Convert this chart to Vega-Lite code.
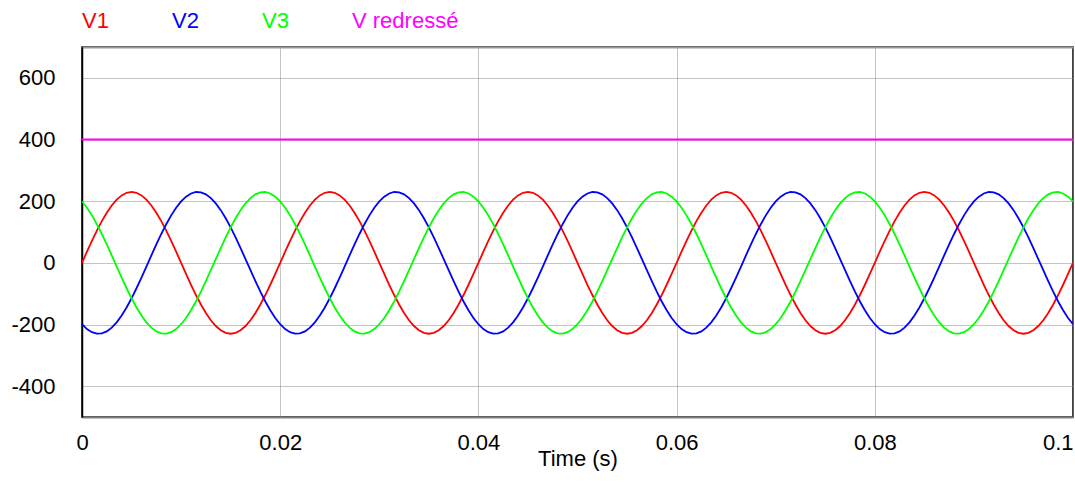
{
"$schema": "https://vega.github.io/schema/vega-lite/v6.json",
"width": 991, "height": 370,
"autosize": "none",
"padding": {"left": 82, "top": 47, "right": 2, "bottom": 67},
"config": {"font": "Liberation Sans", "view": {"stroke": "#000", "strokeWidth": 1.5}},
"resolve": {"axis": {"x": "independent"}},
"layer": [
{
"data": {"values": [
{"t":0,"V1":0,"V2":-199.2,"V3":199.2},
{"t":0.0005,"V1":36,"V2":-214.7,"V3":178.7},
{"t":0.001,"V1":71.1,"V2":-225,"V3":153.9},
{"t":0.0015,"V1":104.4,"V2":-229.7,"V3":125.3},
{"t":0.002,"V1":135.2,"V2":-228.7,"V3":93.6},
{"t":0.0025,"V1":162.6,"V2":-222.2,"V3":59.5},
{"t":0.003,"V1":186.1,"V2":-210.1,"V3":24},
{"t":0.0035,"V1":204.9,"V2":-192.9,"V3":-12},
{"t":0.004,"V1":218.7,"V2":-170.9,"V3":-47.8},
{"t":0.0045,"V1":227.2,"V2":-144.7,"V3":-82.4},
{"t":0.005,"V1":230,"V2":-115,"V3":-115},
{"t":0.0055,"V1":227.2,"V2":-82.4,"V3":-144.7},
{"t":0.006,"V1":218.7,"V2":-47.8,"V3":-170.9},
{"t":0.0065,"V1":204.9,"V2":-12,"V3":-192.9},
{"t":0.007,"V1":186.1,"V2":24,"V3":-210.1},
{"t":0.0075,"V1":162.6,"V2":59.5,"V3":-222.2},
{"t":0.008,"V1":135.2,"V2":93.6,"V3":-228.7},
{"t":0.0085,"V1":104.4,"V2":125.3,"V3":-229.7},
{"t":0.009,"V1":71.1,"V2":153.9,"V3":-225},
{"t":0.0095,"V1":36,"V2":178.7,"V3":-214.7},
{"t":0.01,"V1":0,"V2":199.2,"V3":-199.2},
{"t":0.0105,"V1":-36,"V2":214.7,"V3":-178.7},
{"t":0.011,"V1":-71.1,"V2":225,"V3":-153.9},
{"t":0.0115,"V1":-104.4,"V2":229.7,"V3":-125.3},
{"t":0.012,"V1":-135.2,"V2":228.7,"V3":-93.6},
{"t":0.0125,"V1":-162.6,"V2":222.2,"V3":-59.5},
{"t":0.013,"V1":-186.1,"V2":210.1,"V3":-24},
{"t":0.0135,"V1":-204.9,"V2":192.9,"V3":12},
{"t":0.014,"V1":-218.7,"V2":170.9,"V3":47.8},
{"t":0.0145,"V1":-227.2,"V2":144.7,"V3":82.4},
{"t":0.015,"V1":-230,"V2":115,"V3":115},
{"t":0.0155,"V1":-227.2,"V2":82.4,"V3":144.7},
{"t":0.016,"V1":-218.7,"V2":47.8,"V3":170.9},
{"t":0.0165,"V1":-204.9,"V2":12,"V3":192.9},
{"t":0.017,"V1":-186.1,"V2":-24,"V3":210.1},
{"t":0.0175,"V1":-162.6,"V2":-59.5,"V3":222.2},
{"t":0.018,"V1":-135.2,"V2":-93.6,"V3":228.7},
{"t":0.0185,"V1":-104.4,"V2":-125.3,"V3":229.7},
{"t":0.019,"V1":-71.1,"V2":-153.9,"V3":225},
{"t":0.0195,"V1":-36,"V2":-178.7,"V3":214.7},
{"t":0.02,"V1":0,"V2":-199.2,"V3":199.2},
{"t":0.0205,"V1":36,"V2":-214.7,"V3":178.7},
{"t":0.021,"V1":71.1,"V2":-225,"V3":153.9},
{"t":0.0215,"V1":104.4,"V2":-229.7,"V3":125.3},
{"t":0.022,"V1":135.2,"V2":-228.7,"V3":93.6},
{"t":0.0225,"V1":162.6,"V2":-222.2,"V3":59.5},
{"t":0.023,"V1":186.1,"V2":-210.1,"V3":24},
{"t":0.0235,"V1":204.9,"V2":-192.9,"V3":-12},
{"t":0.024,"V1":218.7,"V2":-170.9,"V3":-47.8},
{"t":0.0245,"V1":227.2,"V2":-144.7,"V3":-82.4},
{"t":0.025,"V1":230,"V2":-115,"V3":-115},
{"t":0.0255,"V1":227.2,"V2":-82.4,"V3":-144.7},
{"t":0.026,"V1":218.7,"V2":-47.8,"V3":-170.9},
{"t":0.0265,"V1":204.9,"V2":-12,"V3":-192.9},
{"t":0.027,"V1":186.1,"V2":24,"V3":-210.1},
{"t":0.0275,"V1":162.6,"V2":59.5,"V3":-222.2},
{"t":0.028,"V1":135.2,"V2":93.6,"V3":-228.7},
{"t":0.0285,"V1":104.4,"V2":125.3,"V3":-229.7},
{"t":0.029,"V1":71.1,"V2":153.9,"V3":-225},
{"t":0.0295,"V1":36,"V2":178.7,"V3":-214.7},
{"t":0.03,"V1":0,"V2":199.2,"V3":-199.2},
{"t":0.0305,"V1":-36,"V2":214.7,"V3":-178.7},
{"t":0.031,"V1":-71.1,"V2":225,"V3":-153.9},
{"t":0.0315,"V1":-104.4,"V2":229.7,"V3":-125.3},
{"t":0.032,"V1":-135.2,"V2":228.7,"V3":-93.6},
{"t":0.0325,"V1":-162.6,"V2":222.2,"V3":-59.5},
{"t":0.033,"V1":-186.1,"V2":210.1,"V3":-24},
{"t":0.0335,"V1":-204.9,"V2":192.9,"V3":12},
{"t":0.034,"V1":-218.7,"V2":170.9,"V3":47.8},
{"t":0.0345,"V1":-227.2,"V2":144.7,"V3":82.4},
{"t":0.035,"V1":-230,"V2":115,"V3":115},
{"t":0.0355,"V1":-227.2,"V2":82.4,"V3":144.7},
{"t":0.036,"V1":-218.7,"V2":47.8,"V3":170.9},
{"t":0.0365,"V1":-204.9,"V2":12,"V3":192.9},
{"t":0.037,"V1":-186.1,"V2":-24,"V3":210.1},
{"t":0.0375,"V1":-162.6,"V2":-59.5,"V3":222.2},
{"t":0.038,"V1":-135.2,"V2":-93.6,"V3":228.7},
{"t":0.0385,"V1":-104.4,"V2":-125.3,"V3":229.7},
{"t":0.039,"V1":-71.1,"V2":-153.9,"V3":225},
{"t":0.0395,"V1":-36,"V2":-178.7,"V3":214.7},
{"t":0.04,"V1":0,"V2":-199.2,"V3":199.2},
{"t":0.0405,"V1":36,"V2":-214.7,"V3":178.7},
{"t":0.041,"V1":71.1,"V2":-225,"V3":153.9},
{"t":0.0415,"V1":104.4,"V2":-229.7,"V3":125.3},
{"t":0.042,"V1":135.2,"V2":-228.7,"V3":93.6},
{"t":0.0425,"V1":162.6,"V2":-222.2,"V3":59.5},
{"t":0.043,"V1":186.1,"V2":-210.1,"V3":24},
{"t":0.0435,"V1":204.9,"V2":-192.9,"V3":-12},
{"t":0.044,"V1":218.7,"V2":-170.9,"V3":-47.8},
{"t":0.0445,"V1":227.2,"V2":-144.7,"V3":-82.4},
{"t":0.045,"V1":230,"V2":-115,"V3":-115},
{"t":0.0455,"V1":227.2,"V2":-82.4,"V3":-144.7},
{"t":0.046,"V1":218.7,"V2":-47.8,"V3":-170.9},
{"t":0.0465,"V1":204.9,"V2":-12,"V3":-192.9},
{"t":0.047,"V1":186.1,"V2":24,"V3":-210.1},
{"t":0.0475,"V1":162.6,"V2":59.5,"V3":-222.2},
{"t":0.048,"V1":135.2,"V2":93.6,"V3":-228.7},
{"t":0.0485,"V1":104.4,"V2":125.3,"V3":-229.7},
{"t":0.049,"V1":71.1,"V2":153.9,"V3":-225},
{"t":0.0495,"V1":36,"V2":178.7,"V3":-214.7},
{"t":0.05,"V1":0,"V2":199.2,"V3":-199.2},
{"t":0.0505,"V1":-36,"V2":214.7,"V3":-178.7},
{"t":0.051,"V1":-71.1,"V2":225,"V3":-153.9},
{"t":0.0515,"V1":-104.4,"V2":229.7,"V3":-125.3},
{"t":0.052,"V1":-135.2,"V2":228.7,"V3":-93.6},
{"t":0.0525,"V1":-162.6,"V2":222.2,"V3":-59.5},
{"t":0.053,"V1":-186.1,"V2":210.1,"V3":-24},
{"t":0.0535,"V1":-204.9,"V2":192.9,"V3":12},
{"t":0.054,"V1":-218.7,"V2":170.9,"V3":47.8},
{"t":0.0545,"V1":-227.2,"V2":144.7,"V3":82.4},
{"t":0.055,"V1":-230,"V2":115,"V3":115},
{"t":0.0555,"V1":-227.2,"V2":82.4,"V3":144.7},
{"t":0.056,"V1":-218.7,"V2":47.8,"V3":170.9},
{"t":0.0565,"V1":-204.9,"V2":12,"V3":192.9},
{"t":0.057,"V1":-186.1,"V2":-24,"V3":210.1},
{"t":0.0575,"V1":-162.6,"V2":-59.5,"V3":222.2},
{"t":0.058,"V1":-135.2,"V2":-93.6,"V3":228.7},
{"t":0.0585,"V1":-104.4,"V2":-125.3,"V3":229.7},
{"t":0.059,"V1":-71.1,"V2":-153.9,"V3":225},
{"t":0.0595,"V1":-36,"V2":-178.7,"V3":214.7},
{"t":0.06,"V1":0,"V2":-199.2,"V3":199.2},
{"t":0.0605,"V1":36,"V2":-214.7,"V3":178.7},
{"t":0.061,"V1":71.1,"V2":-225,"V3":153.9},
{"t":0.0615,"V1":104.4,"V2":-229.7,"V3":125.3},
{"t":0.062,"V1":135.2,"V2":-228.7,"V3":93.6},
{"t":0.0625,"V1":162.6,"V2":-222.2,"V3":59.5},
{"t":0.063,"V1":186.1,"V2":-210.1,"V3":24},
{"t":0.0635,"V1":204.9,"V2":-192.9,"V3":-12},
{"t":0.064,"V1":218.7,"V2":-170.9,"V3":-47.8},
{"t":0.0645,"V1":227.2,"V2":-144.7,"V3":-82.4},
{"t":0.065,"V1":230,"V2":-115,"V3":-115},
{"t":0.0655,"V1":227.2,"V2":-82.4,"V3":-144.7},
{"t":0.066,"V1":218.7,"V2":-47.8,"V3":-170.9},
{"t":0.0665,"V1":204.9,"V2":-12,"V3":-192.9},
{"t":0.067,"V1":186.1,"V2":24,"V3":-210.1},
{"t":0.0675,"V1":162.6,"V2":59.5,"V3":-222.2},
{"t":0.068,"V1":135.2,"V2":93.6,"V3":-228.7},
{"t":0.0685,"V1":104.4,"V2":125.3,"V3":-229.7},
{"t":0.069,"V1":71.1,"V2":153.9,"V3":-225},
{"t":0.0695,"V1":36,"V2":178.7,"V3":-214.7},
{"t":0.07,"V1":0,"V2":199.2,"V3":-199.2},
{"t":0.0705,"V1":-36,"V2":214.7,"V3":-178.7},
{"t":0.071,"V1":-71.1,"V2":225,"V3":-153.9},
{"t":0.0715,"V1":-104.4,"V2":229.7,"V3":-125.3},
{"t":0.072,"V1":-135.2,"V2":228.7,"V3":-93.6},
{"t":0.0725,"V1":-162.6,"V2":222.2,"V3":-59.5},
{"t":0.073,"V1":-186.1,"V2":210.1,"V3":-24},
{"t":0.0735,"V1":-204.9,"V2":192.9,"V3":12},
{"t":0.074,"V1":-218.7,"V2":170.9,"V3":47.8},
{"t":0.0745,"V1":-227.2,"V2":144.7,"V3":82.4},
{"t":0.075,"V1":-230,"V2":115,"V3":115},
{"t":0.0755,"V1":-227.2,"V2":82.4,"V3":144.7},
{"t":0.076,"V1":-218.7,"V2":47.8,"V3":170.9},
{"t":0.0765,"V1":-204.9,"V2":12,"V3":192.9},
{"t":0.077,"V1":-186.1,"V2":-24,"V3":210.1},
{"t":0.0775,"V1":-162.6,"V2":-59.5,"V3":222.2},
{"t":0.078,"V1":-135.2,"V2":-93.6,"V3":228.7},
{"t":0.0785,"V1":-104.4,"V2":-125.3,"V3":229.7},
{"t":0.079,"V1":-71.1,"V2":-153.9,"V3":225},
{"t":0.0795,"V1":-36,"V2":-178.7,"V3":214.7},
{"t":0.08,"V1":0,"V2":-199.2,"V3":199.2},
{"t":0.0805,"V1":36,"V2":-214.7,"V3":178.7},
{"t":0.081,"V1":71.1,"V2":-225,"V3":153.9},
{"t":0.0815,"V1":104.4,"V2":-229.7,"V3":125.3},
{"t":0.082,"V1":135.2,"V2":-228.7,"V3":93.6},
{"t":0.0825,"V1":162.6,"V2":-222.2,"V3":59.5},
{"t":0.083,"V1":186.1,"V2":-210.1,"V3":24},
{"t":0.0835,"V1":204.9,"V2":-192.9,"V3":-12},
{"t":0.084,"V1":218.7,"V2":-170.9,"V3":-47.8},
{"t":0.0845,"V1":227.2,"V2":-144.7,"V3":-82.4},
{"t":0.085,"V1":230,"V2":-115,"V3":-115},
{"t":0.0855,"V1":227.2,"V2":-82.4,"V3":-144.7},
{"t":0.086,"V1":218.7,"V2":-47.8,"V3":-170.9},
{"t":0.0865,"V1":204.9,"V2":-12,"V3":-192.9},
{"t":0.087,"V1":186.1,"V2":24,"V3":-210.1},
{"t":0.0875,"V1":162.6,"V2":59.5,"V3":-222.2},
{"t":0.088,"V1":135.2,"V2":93.6,"V3":-228.7},
{"t":0.0885,"V1":104.4,"V2":125.3,"V3":-229.7},
{"t":0.089,"V1":71.1,"V2":153.9,"V3":-225},
{"t":0.0895,"V1":36,"V2":178.7,"V3":-214.7},
{"t":0.09,"V1":0,"V2":199.2,"V3":-199.2},
{"t":0.0905,"V1":-36,"V2":214.7,"V3":-178.7},
{"t":0.091,"V1":-71.1,"V2":225,"V3":-153.9},
{"t":0.0915,"V1":-104.4,"V2":229.7,"V3":-125.3},
{"t":0.092,"V1":-135.2,"V2":228.7,"V3":-93.6},
{"t":0.0925,"V1":-162.6,"V2":222.2,"V3":-59.5},
{"t":0.093,"V1":-186.1,"V2":210.1,"V3":-24},
{"t":0.0935,"V1":-204.9,"V2":192.9,"V3":12},
{"t":0.094,"V1":-218.7,"V2":170.9,"V3":47.8},
{"t":0.0945,"V1":-227.2,"V2":144.7,"V3":82.4},
{"t":0.095,"V1":-230,"V2":115,"V3":115},
{"t":0.0955,"V1":-227.2,"V2":82.4,"V3":144.7},
{"t":0.096,"V1":-218.7,"V2":47.8,"V3":170.9},
{"t":0.0965,"V1":-204.9,"V2":12,"V3":192.9},
{"t":0.097,"V1":-186.1,"V2":-24,"V3":210.1},
{"t":0.0975,"V1":-162.6,"V2":-59.5,"V3":222.2},
{"t":0.098,"V1":-135.2,"V2":-93.6,"V3":228.7},
{"t":0.0985,"V1":-104.4,"V2":-125.3,"V3":229.7},
{"t":0.099,"V1":-71.1,"V2":-153.9,"V3":225},
{"t":0.0995,"V1":-36,"V2":-178.7,"V3":214.7},
{"t":0.1,"V1":0,"V2":-199.2,"V3":199.2}
]},
"transform": [{"fold": ["V1","V2","V3"], "as": ["s","v"]}],
"mark": {"type": "line", "strokeWidth": 1.8, "clip": true},
"encoding": {
"x": {"field": "t", "type": "quantitative",
 "scale": {"domain": [0, 0.1], "nice": false, "zero": false},
 "axis": {"values": [0, 0.02, 0.04, 0.06, 0.08, 0.1], "labelExpr": "'' + datum.value", "title": "Time (s)",
  "titleFontSize": 22, "titleFontWeight": "normal", "titleColor": "#000", "titlePadding": -5,
  "labelFontSize": 22, "labelColor": "#000", "ticks": false, "tickSize": 0, "labelPadding": 15, "labelFlush": false,
  "labelAlign": {"condition": {"test": "datum.value >= 0.1", "value": "right"}, "value": "center"},
  "grid": true, "gridColor": "#888", "gridDash": [1, 1], "gridWidth": 1,
  "domainColor": "#808080", "domainWidth": 2}},
"y": {"field": "v", "type": "quantitative",
 "scale": {"domain": [-500, 700], "nice": false, "zero": false},
 "axis": {"values": [-400, -200, 0, 200, 400, 600], "labelExpr": "'' + datum.value", "title": null,
  "labelFontSize": 22, "labelColor": "#000", "ticks": false, "tickSize": 0, "labelPadding": 27,
  "grid": true, "gridColor": "#888", "gridDash": [1, 1], "gridWidth": 1,
  "domainColor": "#000", "domainWidth": 1.5}},
"color": {"field": "s", "type": "nominal",
 "scale": {"domain": ["V1", "V2", "V3", "V redressé"], "range": ["#ff0000", "#0000ff", "#00ff00", "#ff00ff"]},
 "legend": {"orient": "none", "legendX": -22, "legendY": -37, "direction": "horizontal", "title": null,
  "symbolSize": 0, "symbolStrokeWidth": 0, "symbolOpacity": 0, "labelOffset": 0, "labelFontSize": 22,
  "columnPadding": 41, "padding": 0,
  "encode": {"labels": {"update": {"fill": {"signal": "scale('color', datum.value)"}}}}}}
}
},
{
"data": {"values": [{"t": 0, "v": 400, "s": "V redressé"}, {"t": 0.1, "v": 400, "s": "V redressé"}]},
"mark": {"type": "line", "strokeWidth": 2, "clip": true},
"encoding": {
"x": {"field": "t", "type": "quantitative",
 "axis": {"orient": "top", "labels": false, "ticks": false, "grid": false, "title": null, "domainColor": "#999", "domainWidth": 2}},
"y": {"field": "v", "type": "quantitative"},
"color": {"field": "s", "type": "nominal"}
}
}
]
}
